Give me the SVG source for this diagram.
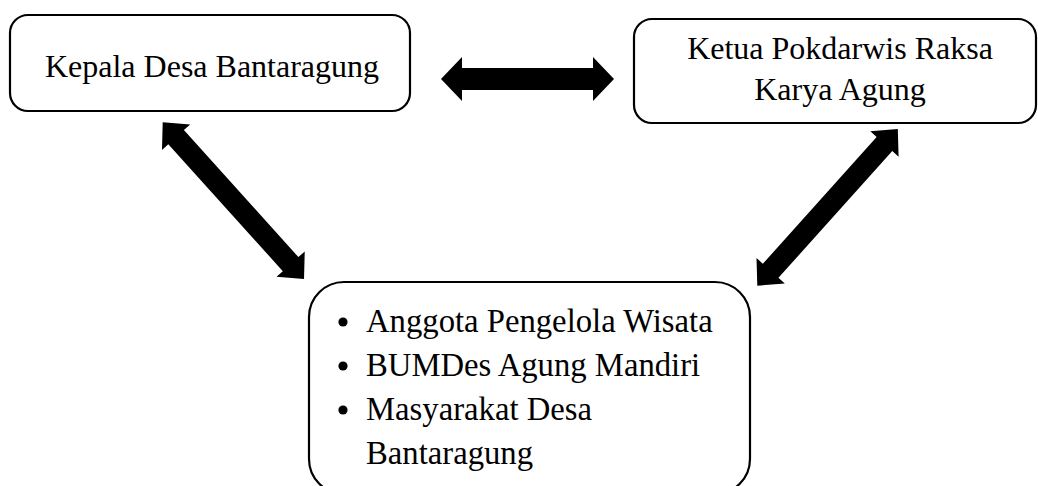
<svg xmlns="http://www.w3.org/2000/svg" width="1038" height="486" viewBox="0 0 1038 486">
<style>
.box{fill:#fff;stroke:#000;stroke-width:2.2}
.t{font-family:"Liberation Serif","Times New Roman",serif;font-size:32px;fill:#000}
.l{font-size:32.7px}
.arrow{fill:#000}
</style>
<rect width="1038" height="486" fill="#fff"/>
<g id="connectors">
<polygon class="arrow" transform="translate(441,79)" points="0,0 21,-22 21,-11 152,-11 152,-22 173,0 152,22 152,11 21,11 21,22"/>
<polygon class="arrow" transform="translate(162.7,122.3) rotate(47.95)" points="0,0 20,-19 20,-10.5 191,-10.5 191,-19 211,0 191,19 191,10.5 20,10.5 20,19"/>
<polygon class="arrow" transform="translate(757.3,285.7) rotate(-48.1)" points="0,0 20,-19 20,-10.5 190.4,-10.5 190.4,-19 210.4,0 190.4,19 190.4,10.5 20,10.5 20,19"/>
</g>
<g id="node-kepala">
<rect class="box" x="10" y="15" width="400" height="96" rx="18"/>
<text class="t" x="212" y="77" text-anchor="middle">Kepala Desa Bantaragung</text>
</g>
<g id="node-ketua">
<rect class="box" x="634" y="19" width="402" height="104" rx="18"/>
<text class="t" x="840" y="59" text-anchor="middle">Ketua Pokdarwis Raksa</text>
<text class="t" x="840" y="100" text-anchor="middle">Karya Agung</text>
</g>
<g id="node-anggota">
<rect class="box" x="309" y="282" width="441" height="212" rx="35"/>
<circle cx="343" cy="322" r="4.6"/>
<circle cx="343" cy="366" r="4.6"/>
<circle cx="343" cy="410" r="4.6"/>
<text class="t l" x="366" y="332">Anggota Pengelola Wisata</text>
<text class="t l" x="366" y="376">BUMDes Agung Mandiri</text>
<text class="t l" x="366" y="420">Masyarakat Desa</text>
<text class="t l" x="366" y="464">Bantaragung</text>
</g>
</svg>
